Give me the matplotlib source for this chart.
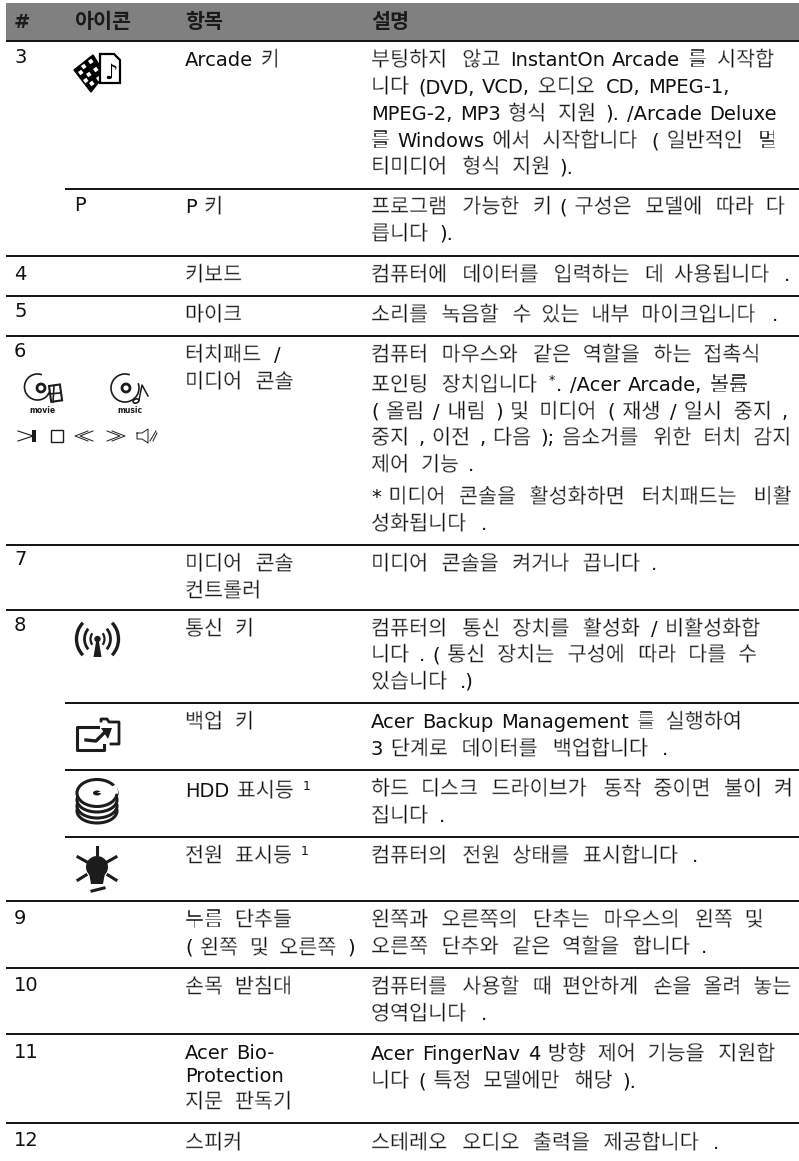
import re
import matplotlib
matplotlib.use('Agg')
import matplotlib.pyplot as plt
import matplotlib.patheffects as pe
from matplotlib.patches import Circle, Rectangle, Polygon, Arc, Ellipse, Wedge

# header
headers = ['#', '아이콘', '항목', '설명']
header_x = [14, 74, 185, 371]

# row numbers (text, baseline)
numbers = ['3', 'P', '4', '5', '6', '7', '8', '9', '10', '11', '12']
number_x = [14, 74, 14, 14, 14, 14, 14, 14, 14, 14, 14]
number_y = [63, 211, 280, 317, 357, 565, 631, 924, 991, 1058, 1146]

# item column
items = ['Arcade 키', 'P 키', '키보드', '마이크', '터치패드 /', '미디어 콘솔', '미디어 콘솔', '컨트롤러',
         '통신 키', '백업 키', 'HDD 표시등 ^1', '전원 표시등 ^1', '누름 단추들', '( 왼쪽 및 오른쪽 )',
         '손목 받침대', 'Acer Bio-', 'Protection', '지문 판독기', '스피커']
item_y = [66, 213, 281, 321, 361, 388, 570, 597, 635, 728, 797, 862, 926, 954, 993, 1059, 1082, 1108, 1149]

# description column
desc = ['부팅하지 않고 InstantOn Arcade 를 시작합',
        '니다 (DVD, VCD, 오디오 CD, MPEG-1,',
        'MPEG-2, MP3 형식 지원 ). /Arcade Deluxe',
        '를 Windows 에서 시작합니다 ( 일반적인 멀',
        '티미디어 형식 지원 ).',
        '프로그램 가능한 키 ( 구성은 모델에 따라 다',
        '릅니다 ).',
        '컴퓨터에 데이터를 입력하는 데 사용됩니다 .',
        '소리를 녹음할 수 있는 내부 마이크입니다 .',
        '컴퓨터 마우스와 같은 역할을 하는 접촉식',
        '포인팅 장치입니다 ^*. /Acer Arcade, 볼륨',
        '( 올림 / 내림 ) 및 미디어 ( 재생 / 일시 중지 ,',
        '중지 , 이전 , 다음 ); 음소거를 위한 터치 감지',
        '제어 기능 .',
        '* 미디어 콘솔을 활성화하면 터치패드는 비활',
        '성화됩니다 .',
        '미디어 콘솔을 켜거나 끕니다 .',
        '컴퓨터의 통신 장치를 활성화 / 비활성화합',
        '니다 . ( 통신 장치는 구성에 따라 다를 수',
        '있습니다 .)',
        'Acer Backup Management 를 실행하여',
        '3 단계로 데이터를 백업합니다 .',
        '하드 디스크 드라이브가 동작 중이면 불이 켜',
        '집니다 .',
        '컴퓨터의 전원 상태를 표시합니다 .',
        '왼쪽과 오른쪽의 단추는 마우스의 왼쪽 및',
        '오른쪽 단추와 같은 역할을 합니다 .',
        '컴퓨터를 사용할 때 편안하게 손을 올려 놓는',
        '영역입니다 .',
        'Acer FingerNav 4 방향 제어 기능을 지원합',
        '니다 ( 특정 모델에만 해당 ).',
        '스테레오 오디오 출력을 제공합니다 .']
desc_y = [66, 93, 120, 147, 173, 213, 240, 281, 321, 361, 391, 418, 444, 471, 503, 530, 570,
          635, 661, 688, 728, 755, 795, 822, 862, 926, 953, 993, 1020, 1060, 1087, 1149]

# rules: y, x start
rule_y = [41, 189, 256, 296, 336, 545, 610, 703, 770, 837, 901, 968, 1034, 1123]
rule_x = [6, 65, 6, 6, 6, 6, 6, 65, 65, 65, 6, 6, 6, 6]

LATIN = 'DejaVu Sans'
HANGUL = 'Noto Sans CJK KR'
HANGUL_PX = 20.7
LATIN_PT = 14.0
SPACE = 6.0

fig = plt.figure(figsize=(7.99, 11.61), dpi=100)
ax = fig.add_axes([0, 0, 1, 1])
ax.set_xlim(0, 799)
ax.set_ylim(1161, 0)
ax.axis('off')
renderer = fig.canvas.get_renderer()
thin = [pe.Normal(), pe.Stroke(linewidth=0.35, foreground='white')]


def is_hangul(s):
    return re.match(r'[\uac00-\ud7a3]', s) is not None


def draw_line(x, y, s, bold=False, color='#111111'):
    # lay out hangul and latin runs one after the other, sizes differ
    runs = re.findall(r'[\uac00-\ud7a3]+|\^.|\s|[^\uac00-\ud7a3\s^]+', s)
    for i, run in enumerate(runs):
        if run == ' ':
            # word gaps between two hangul runs are wider
            both = 0 < i < len(runs) - 1 and is_hangul(runs[i - 1]) and is_hangul(runs[i + 1])
            x += 8.5 if both else SPACE
        elif run[0] == '^':
            t = ax.text(x - 2, y - 7, run[1], family=LATIN, size=9, color=color, va='baseline')
            x += t.get_window_extent(renderer).width - 1
        elif is_hangul(run):
            t = ax.text(x, y, run, family=HANGUL, size=HANGUL_PX * 0.72, color=color, va='baseline',
                        weight='bold' if bold else 'normal')
            if not bold:
                t.set_path_effects(thin)
            x += HANGUL_PX * len(run)
        else:
            t = ax.text(x, y, run, family=LATIN, size=LATIN_PT, color=color, va='baseline',
                        weight='bold' if bold else 'normal')
            x += t.get_window_extent(renderer).width + 1.5


# header band and rules
ax.add_patch(Rectangle((6, 3), 793, 37, facecolor='#808080', edgecolor='none'))
for name, hx in zip(headers, header_x):
    draw_line(hx, 28, name, bold=True, color='#1a1a1a')
for ry, rx in zip(rule_y, rule_x):
    ax.plot([rx, 799], [ry, ry], color='black', lw=1.3, solid_capstyle='butt')

for n, nx, ny in zip(numbers, number_x, number_y):
    ax.text(nx, ny, n, family=LATIN, size=LATIN_PT, color='#111111', va='baseline')
for s, y in zip(items, item_y):
    draw_line(185, y, s)
for s, y in zip(desc, desc_y):
    draw_line(371, y, s)

K = '#1c1c1c'

# arcade icon: film strip and note sheet
ax.add_patch(Polygon([[74, 70], [93, 55], [105, 74], [91, 92]], fc='black', ec='black', lw=1))
for cx, cy in [(83, 68), (90, 63), (97, 58), (88, 76), (95, 71), (102, 66), (91, 85), (98, 80), (80, 74), (85, 82)]:
    ax.add_patch(Rectangle((cx - 2, cy - 2), 4, 4, angle=-35, fc='white', ec='none'))
ax.add_patch(Polygon([[100, 54], [114, 54], [120, 60], [120, 83], [100, 83]], fc='white', ec='black', lw=1.6))
ax.text(104, 79, '♪', family='DejaVu Sans', size=15, weight='bold', color='black')

# movie and music discs
ax.add_patch(Arc((37.5, 387), 26, 26, theta1=10, theta2=290, color=K, lw=1.2))
ax.add_patch(Arc((125, 388), 28, 28, theta1=-20, theta2=290, color=K, lw=1.2))
ax.add_patch(Circle((41, 388), 4, fc='white', ec=K, lw=2))
ax.add_patch(Circle((126, 388), 4, fc='white', ec=K, lw=2))
ax.add_patch(Rectangle((49, 386), 11, 16, angle=-8, fc='white', ec=K, lw=1.5))
ax.plot([48.5, 60], [394, 393], color=K, lw=1.2)
ax.plot([54, 53], [386, 402], color=K, lw=1.2)
ax.add_patch(Ellipse((136, 401), 6, 4, angle=-20, fc='white', ec=K, lw=1.2))
ax.plot([139, 142, 148], [400, 385, 396], color=K, lw=1.1)
ax.text(42, 413, 'movie', family=LATIN, size=5.5, weight='bold', color=K, ha='center')
ax.text(130, 413, 'music', family=LATIN, size=5.5, weight='bold', color=K, ha='center')

# media key symbols
ax.plot([18, 33, 18], [431, 436, 441], color=K, lw=0.8)
ax.add_patch(Rectangle((32, 430), 4, 12, fc=K, ec='none'))
ax.add_patch(Rectangle((51, 430), 12, 12, fc='none', ec=K, lw=1))
for off in (0, 5):
    ax.plot([88 + off, 75 + off, 88 + off], [431, 436, 441], color=K, lw=0.7)
    ax.plot([107 + off, 120 + off, 107 + off], [431, 436, 441], color=K, lw=0.7)
ax.plot([137, 142, 148, 148, 142, 137, 137], [433, 433, 429, 443, 439, 439, 433], color=K, lw=0.7)
ax.plot([150, 156], [441, 431], color=K, lw=0.7)
ax.plot([153, 157], [441, 433], color=K, lw=0.7)

# wireless icon
for r, lw in zip([7, 13, 21], [1.6, 2.0, 2.4]):
    ax.add_patch(Arc((97.5, 639), r * 2, r * 2 + 3, theta1=-48, theta2=48, color=K, lw=lw))
    ax.add_patch(Arc((97.5, 639), r * 2, r * 2 + 3, theta1=132, theta2=228, color=K, lw=lw))
ax.add_patch(Circle((97.5, 639), 3.2, fc=K, ec='none'))
ax.add_patch(Polygon([[96, 642], [99, 642], [101.5, 657], [93.5, 657]], fc=K, ec='none'))

# backup icon
ax.plot([101, 101, 107, 109, 119, 119, 111], [721, 719, 719, 722, 722, 744, 744], color=K, lw=2)
ax.plot([98, 77, 77, 104, 104], [727, 727, 750, 750, 745], color=K, lw=2.2)
ax.plot([86, 96, 106], [740, 741, 731], color=K, lw=2.4)
ax.add_patch(Polygon([[101, 728], [112, 728], [108, 739]], fc=K, ec='none'))

# hdd icon
for cy in (811, 806, 800):
    ax.add_patch(Ellipse((97, cy), 40, 24, fc='white', ec=K, lw=2.2))
ax.add_patch(Ellipse((97, 793), 40, 27, fc='white', ec=K, lw=2.2))
ax.add_patch(Ellipse((97, 793), 8, 5, fc=K, ec='none'))
ax.add_patch(Wedge((97, 793), 21, -24, 2, fc='white', ec='none'))

# power bulb icon
ax.add_patch(Circle((97, 867), 11, fc=K, ec='none'))
ax.add_patch(Polygon([[89, 873], [105, 873], [103, 884], [91, 884]], fc=K, ec='none'))
ax.plot([92, 104], [891, 888], color=K, lw=2.2)
ax.plot([97, 97], [847, 854], color=K, lw=2.2)
ax.plot([78, 87], [857, 862], color=K, lw=2.2)
ax.plot([116, 107], [857, 862], color=K, lw=2.2)
ax.plot([78, 86], [880, 875], color=K, lw=2.2)
ax.plot([116, 108], [880, 875], color=K, lw=2.2)

fig.savefig('out.png', dpi=100)
